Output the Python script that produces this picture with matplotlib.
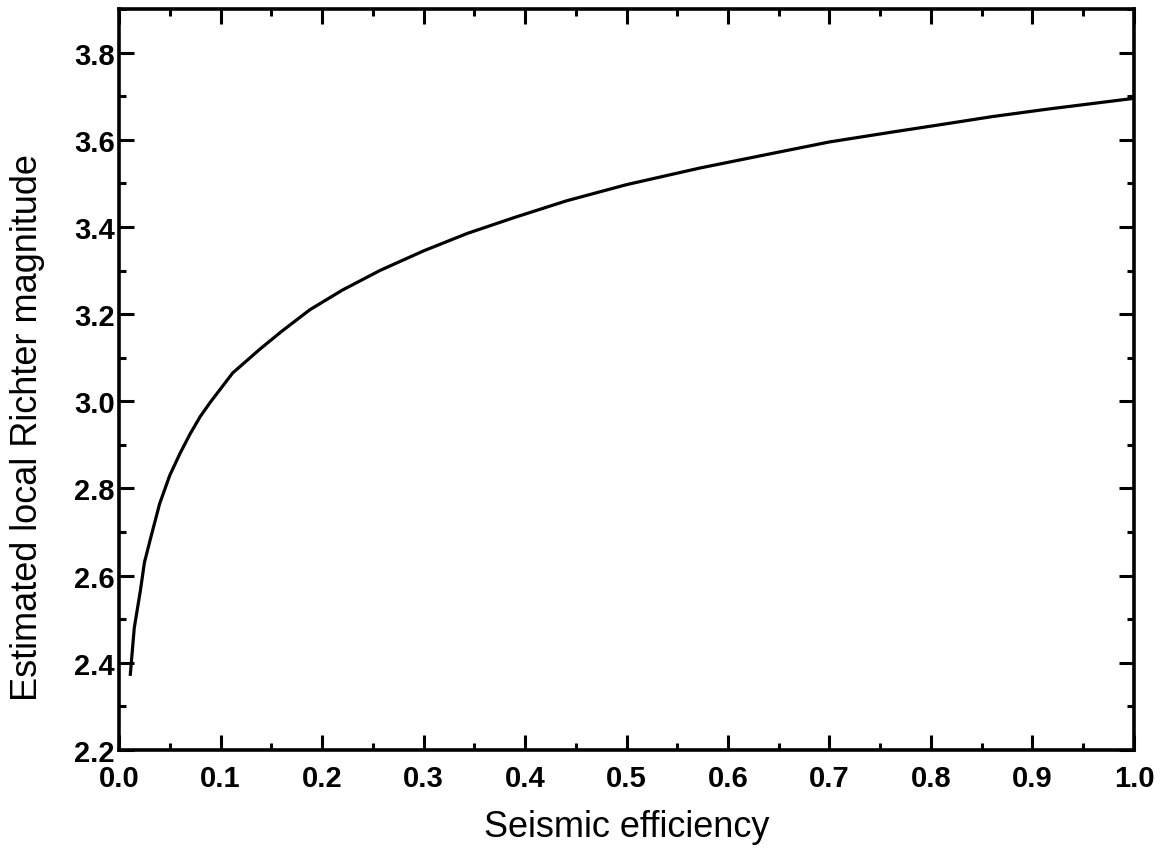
import matplotlib
matplotlib.use("Agg")
import matplotlib.pyplot as plt
from matplotlib.ticker import MultipleLocator, FormatStrFormatter

# Seismic efficiency vs. estimated local Richter magnitude
efficiency = [0.011, 0.015, 0.021, 0.025, 0.031, 0.040, 0.050, 0.060, 0.070,
              0.080, 0.090, 0.112, 0.139, 0.160, 0.188, 0.220, 0.257, 0.300,
              0.343, 0.390, 0.441, 0.500, 0.572, 0.640, 0.700, 0.760, 0.816,
              0.860, 0.914, 1.0]
magnitude = [2.37, 2.48, 2.565, 2.63, 2.685, 2.765, 2.83, 2.88, 2.925,
             2.965, 2.998, 3.065, 3.12, 3.16, 3.21, 3.255, 3.30, 3.345,
             3.385, 3.422, 3.46, 3.497, 3.535, 3.567, 3.595, 3.617, 3.637,
             3.653, 3.67, 3.695]

x_label = "Seismic efficiency"
y_label = "Estimated local Richter magnitude"

plt.rcParams['font.family'] = ['Liberation Sans', 'DejaVu Sans']

fig = plt.figure(figsize=(11.67, 8.62), dpi=100)
ax = fig.add_axes([0.102, 0.1288, 0.8697, 0.8596])

ax.plot(efficiency, magnitude, color='black', lw=2.3,
        solid_capstyle='butt', solid_joinstyle='round')

ax.set_xlim(0.0, 1.0)
ax.set_ylim(2.2, 3.9)
ax.xaxis.set_major_locator(MultipleLocator(0.1))
ax.xaxis.set_minor_locator(MultipleLocator(0.05))
ax.yaxis.set_major_locator(MultipleLocator(0.2))
ax.yaxis.set_minor_locator(MultipleLocator(0.1))
ax.xaxis.set_major_formatter(FormatStrFormatter('%.1f'))
ax.yaxis.set_major_formatter(FormatStrFormatter('%.1f'))

for s in ax.spines.values():
    s.set_linewidth(2.6)

ax.tick_params(which='both', direction='in', top=True, right=True, width=2.2)
ax.tick_params(which='major', length=10.5)
ax.tick_params(which='minor', length=5)
ax.tick_params(axis='x', which='major', pad=10)
ax.tick_params(axis='y', which='major', pad=3)
for lab in ax.get_xticklabels() + ax.get_yticklabels():
    lab.set_fontsize(21)
    lab.set_fontweight('bold')

ax.set_xlabel(x_label, fontsize=26, labelpad=12)
ax.set_ylabel(y_label, fontsize=26)
ax.yaxis.set_label_coords(-0.073, 0.437)

fig.savefig("out.png", dpi=100, facecolor='white')
